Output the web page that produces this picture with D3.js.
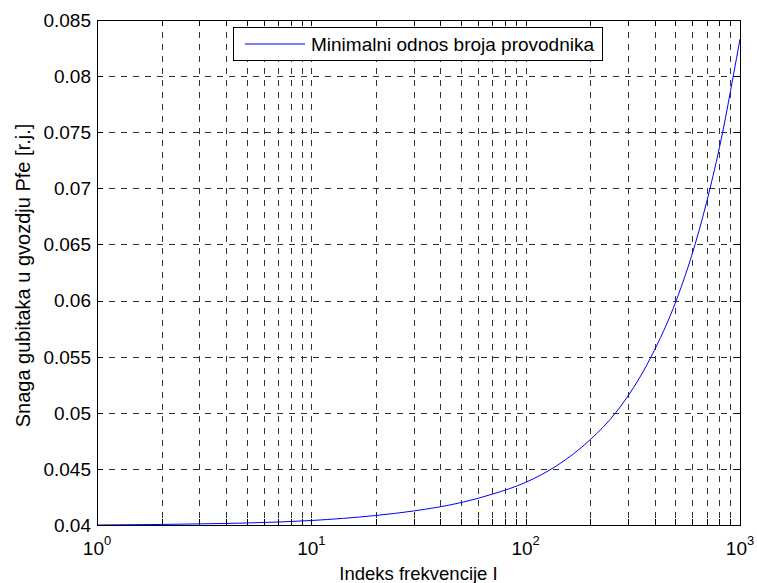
<!DOCTYPE html>
<html>
<head>
<meta charset="utf-8">
<script src="https://cdn.jsdelivr.net/npm/d3@7"></script>
<style>
    body { margin: 0; background: #fff; }
    svg { display: block; font-family: "Liberation Sans", Arial, sans-serif; }
</style>
</head>
<body>
<svg id="chart" width="757" height="583"></svg>
<script>
// === Dane ===
const xVals = [1, 2, 3, 5, 10, 20, 30, 50, 70, 100, 140, 200, 263, 385, 504, 617, 725, 830, 930, 1000];
const yVals = [0.04000, 0.04005, 0.04010, 0.04018, 0.04040, 0.04085, 0.04125, 0.04200, 0.04275, 0.04380,
               0.04530, 0.04760, 0.05000, 0.05500, 0.06000, 0.06500, 0.07000, 0.07500, 0.08000, 0.08330];

const yTicks = [0.04, 0.045, 0.05, 0.055, 0.06, 0.065, 0.07, 0.075, 0.08, 0.085];
const yTickLabels = ["0.04", "0.045", "0.05", "0.055", "0.06", "0.065", "0.07", "0.075", "0.08", "0.085"];
const xMajor = [1, 10, 100, 1000];
const xExponents = ["0", "1", "2", "3"];
const xMinor = [2, 3, 4, 5, 6, 7, 8, 9, 20, 30, 40, 50, 60, 70, 80, 90, 200, 300, 400, 500, 600, 700, 800, 900];

const legendText = "Minimalni odnos broja provodnika";
const xLabel = "Indeks frekvencije I";
const yLabel = "Snaga gubitaka u gvozdju Pfe [r.j.]";

// === Wymiary ===
const W = 757, H = 583;
const m = { left: 97, top: 20, right: 17, bottom: 58 };
const pw = W - m.left - m.right, ph = H - m.top - m.bottom;

const svg = d3.select("#chart");
const g = svg.append("g").attr("transform", `translate(${m.left},${m.top})`);

const x = d3.scaleLog().domain([1, 1000]).range([0, pw]);
const y = d3.scaleLinear().domain([0.04, 0.085]).range([ph, 0]);

// === Siatka ===
const gridX = xMajor.concat(xMinor).filter(v => v > 1 && v < 1000);
g.append("g").selectAll("line")
    .data(gridX)
    .enter().append("line")
    .attr("x1", d => Math.round(x(d)) + 0.5).attr("x2", d => Math.round(x(d)) + 0.5)
    .attr("y1", 0).attr("y2", ph)
    .attr("stroke", "#333").attr("stroke-dasharray", "6,6")
    .attr("shape-rendering", "crispEdges");

g.append("g").selectAll("line")
    .data(yTicks.slice(1, -1))
    .enter().append("line")
    .attr("y1", d => Math.round(y(d)) + 0.5).attr("y2", d => Math.round(y(d)) + 0.5)
    .attr("x1", 0).attr("x2", pw)
    .attr("stroke", "#333").attr("stroke-dasharray", "6,6")
    .attr("shape-rendering", "crispEdges");

// === Krzywa ===
const line = d3.line()
    .x((d, i) => x(xVals[i]))
    .y(d => y(d))
    .curve(d3.curveMonotoneX);

g.append("path")
    .datum(yVals)
    .attr("d", line)
    .attr("fill", "none")
    .attr("stroke", "#0000ff")
    .attr("stroke-width", 1);

// === Osie (ramka + ticki do środka) ===
const tl = 6;
const axisG = g.append("g").attr("stroke", "#000").attr("shape-rendering", "crispEdges");
axisG.append("rect").attr("x", 0.5).attr("y", 0.5).attr("width", pw).attr("height", ph)
    .attr("fill", "none");

xMajor.concat(xMinor).forEach(v => {
    const px = Math.round(x(v)) + 0.5;
    axisG.append("line").attr("x1", px).attr("x2", px).attr("y1", ph).attr("y2", ph - tl);
    axisG.append("line").attr("x1", px).attr("x2", px).attr("y1", 0).attr("y2", tl);
});
yTicks.forEach(v => {
    const py = Math.round(y(v)) + 0.5;
    axisG.append("line").attr("x1", 0).attr("x2", tl).attr("y1", py).attr("y2", py);
    axisG.append("line").attr("x1", pw).attr("x2", pw - tl).attr("y1", py).attr("y2", py);
});

// === Etykiety ticków ===
g.append("g").selectAll("text")
    .data(yTicks)
    .enter().append("text")
    .attr("x", -6)
    .attr("y", d => y(d))
    .attr("dy", "0.36em")
    .attr("text-anchor", "end")
    .attr("font-size", 19)
    .attr("fill", "#000")
    .text((d, i) => yTickLabels[i]);

const xt = g.append("g").selectAll("text")
    .data(xMajor)
    .enter().append("text")
    .attr("x", d => x(d))
    .attr("y", ph + 30)
    .attr("text-anchor", "middle")
    .attr("font-size", 19)
    .attr("fill", "#000");
xt.append("tspan").text("10");
xt.append("tspan").attr("dy", -10).attr("font-size", 13).text((d, i) => xExponents[i]);

// === Opisy osi ===
svg.append("text")
    .attr("x", m.left + pw / 2).attr("y", 580)
    .attr("text-anchor", "middle").attr("font-size", 18.5)
    .text(xLabel);

svg.append("text")
    .attr("transform", `translate(30,${m.top + ph / 2 + 3}) rotate(-90)`)
    .attr("text-anchor", "middle").attr("font-size", 20)
    .text(yLabel);

// === Legenda ===
const lg = svg.append("g");
lg.append("rect").attr("x", 233.5).attr("y", 27.5).attr("width", 369).attr("height", 33)
    .attr("fill", "#fff").attr("stroke", "#000").attr("shape-rendering", "crispEdges");
lg.append("line").attr("x1", 245).attr("x2", 305).attr("y1", 44).attr("y2", 44)
    .attr("stroke", "#0000ff").attr("stroke-width", 1);
lg.append("text").attr("x", 311).attr("y", 51).attr("font-size", 19).text(legendText);
</script>
</body>
</html>
